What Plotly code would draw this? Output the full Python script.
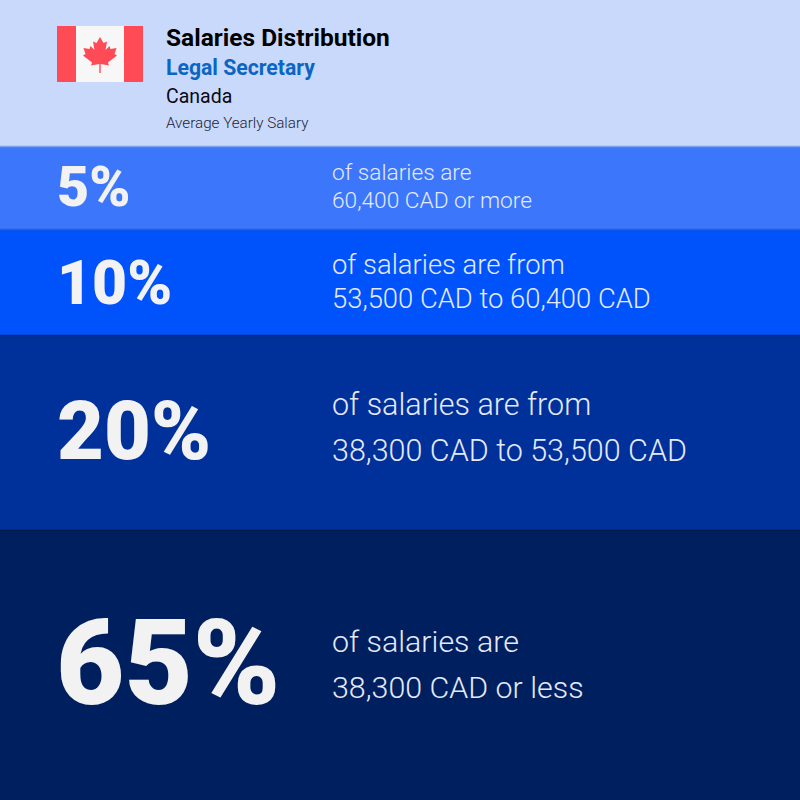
import plotly.graph_objects as go

shares = [5, 10, 20, 65]
labels = ["5%", "10%", "20%", "65%"]
line_one = ["of salaries are", "of salaries are from", "of salaries are from", "of salaries are"]
line_two = ["60,400 CAD or more", "53,500 CAD to 60,400 CAD", "38,300 CAD to 53,500 CAD", "38,300 CAD or less"]
colors = ["#3b76fb", "#0053fb", "#00309a", "#001f5f"]
edge = ["#7f9fe6", "#2a5fd0", "#00287f", "#001a50"]

fig = go.Figure()
fig.update_layout(
    width=800, height=800, margin=dict(l=0, r=0, t=0, b=0), showlegend=False,
    paper_bgcolor="#c9d9fc", plot_bgcolor="#c9d9fc",
    xaxis=dict(range=[0, 800], visible=False, fixedrange=True),
    yaxis=dict(range=[800, 0], visible=False, fixedrange=True),
)
tops = [146, 229, 335, 530]
bots = [229, 335, 530, 800]
sizes = [55.5, 60.6, 81, 118]
txt = [22.7, 27.4, 30.5, 30.4]
y1 = [172, 265, 404, 641]
y2 = [200, 299, 450, 687]
ybig = [187, 283, 431, 664]
xbig = [57, 57, 57, 55.5]
common = dict(showarrow=False, xanchor="left", yanchor="middle", borderpad=0, borderwidth=0)
for i in range(4):
    fig.add_shape(type="rect", x0=0, x1=800, y0=tops[i], y1=bots[i], fillcolor=colors[i], line_width=0, layer="below")
    fig.add_shape(type="line", x0=0, x1=800, y0=tops[i] + 0.5, y1=tops[i] + 0.5, line=dict(color=edge[i], width=1.5), layer="below")
    fig.add_annotation(x=xbig[i], y=ybig[i], text=labels[i], **common,
                       font=dict(family="Roboto", size=sizes[i], color="#f2f2f2", weight=900))
    for yy, t in ((y1[i], line_one[i]), (y2[i], line_two[i])):
        fig.add_annotation(x=332, y=yy, text=t, **common,
                           font=dict(family="Roboto", size=txt[i], color="#e4eafa", weight=300))
# flag
fig.add_shape(type="rect", x0=57, x1=143, y0=26, y1=82, fillcolor="#f7f7f7", line_width=0)
fig.add_shape(type="rect", x0=57, x1=76, y0=26, y1=82, fillcolor="#ff4b55", line_width=0)
fig.add_shape(type="rect", x0=124, x1=143, y0=26, y1=82, fillcolor="#ff4b55", line_width=0)
leaf = ("M100,37 L103.5,43 L107,41.5 L105.5,50 L109.5,46 L110.5,49 L116.5,48 L114.5,54 L117,55.5 L108,62.5 "
        "L109,65.5 L100.7,64 L100.7,73 L99.3,73 L99.3,64 L91,65.5 L92,62.5 L83,55.5 L85.5,54 L83.5,48 "
        "L89.5,49 L90.5,46 L94.5,50 L93,41.5 L96.5,43 Z")
fig.add_shape(type="path", path=leaf, fillcolor="#ff4b55", line_width=0)
head = [("<b>Salaries Distribution</b>", 37, 24.5, "#000000", 400), ("<b>Legal Secretary</b>", 67, 21.2, "#0a66c2", 400),
        ("Canada", 96, 19.5, "#0a0a14", 400), ("Average Yearly Salary", 123, 15.2, "#222233", 300)]
for t, y, s, c, w in head:
    fig.add_annotation(x=166, y=y, text=t, **common,
                       font=dict(family="Roboto", size=s, color=c, weight=w))
fig.write_html("out.html", config=dict(displayModeBar=False),
               post_script="document.body.style.margin='0';document.body.style.overflow='hidden';")
